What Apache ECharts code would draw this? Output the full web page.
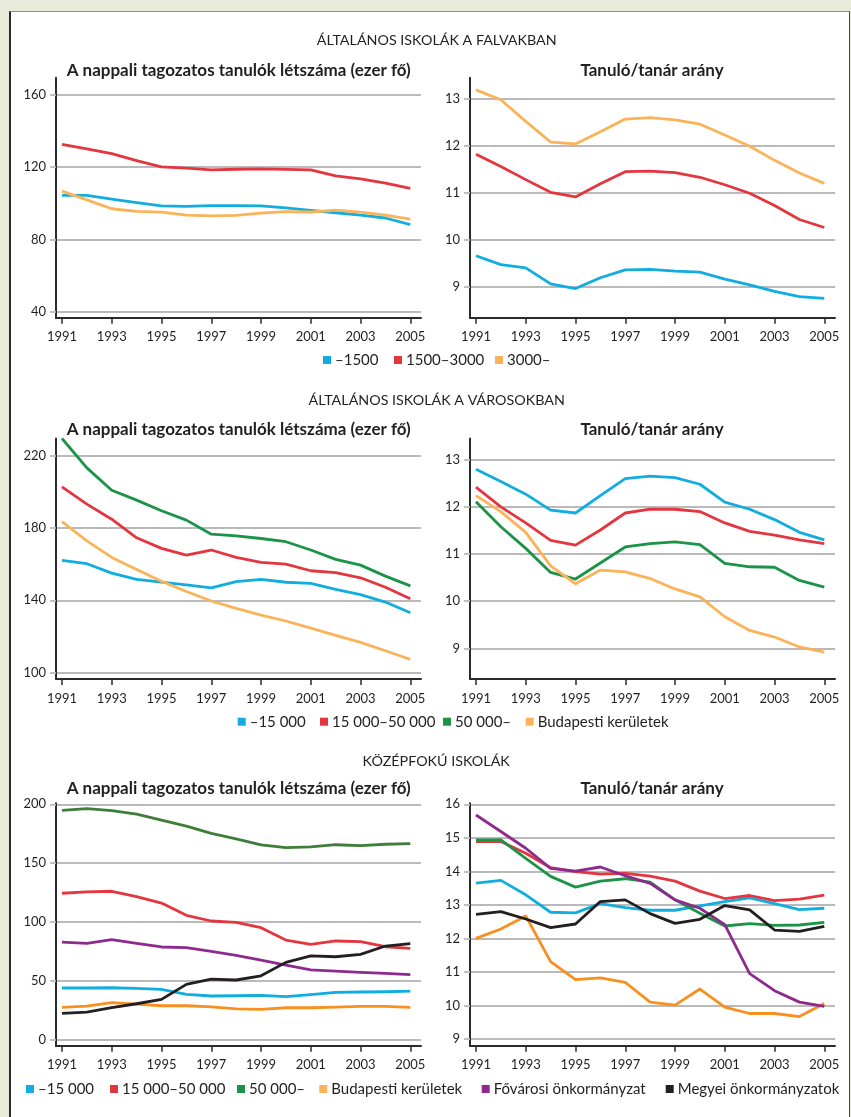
<!DOCTYPE html>
<html lang="hu">
<head>
<meta charset="utf-8">
<title>Tanulók létszáma és tanuló/tanár arány, 1991–2005</title>
<script src="https://cdn.jsdelivr.net/npm/echarts@6/dist/echarts.min.js"></script>
<style>
  html, body { margin: 0; padding: 0; }
  body { width: 851px; height: 1117px; background: #e8ebd9; position: relative; overflow: hidden; }
  #panel { position: absolute; left: 9px; top: 11px; width: 838px; height: 1110px;
           background: #ffffff; border-left: 2px solid #2a2a2a; border-top: 1px solid #8d8f85;
           border-right: 1px solid #4a4a4a; }
  #chart { position: absolute; left: 0; top: 0; width: 851px; height: 1117px; }
</style>
</head>
<body>
<div id="panel"></div>
<div id="chart"></div>
<script>
// ---- years and tick labels ----
const years = [1991, 1992, 1993, 1994, 1995, 1996, 1997, 1998, 1999, 2000, 2001, 2002, 2003, 2004, 2005];
const yearTicks = [1991, 1993, 1995, 1997, 1999, 2001, 2003, 2005];
const ticksVillagePupils = [40, 80, 120, 160];
const ticksVillageRatio = [9, 10, 11, 12, 13];
const ticksTownPupils = [100, 140, 180, 220];
const ticksTownRatio = [9, 10, 11, 12, 13];
const ticksSecPupils = [0, 50, 100, 150, 200];
const ticksSecRatio = [9, 10, 11, 12, 13, 14, 15, 16];

// ---- legend categories ----
const villageCats = ['–1500', '1500–3000', '3000–'];
const townCats = ['–15 000', '15 000–50 000', '50 000–', 'Budapesti kerületek'];
const secCats = ['–15 000', '15 000–50 000', '50 000–', 'Budapesti kerületek', 'Fővárosi önkormányzat', 'Megyei önkormányzatok'];

// ---- general schools in villages: pupils (thousand) ----
const vilPupilsU1500 = [104.3, 104.3, 102.2, 100.3, 98.5, 98.2, 98.6, 98.6, 98.5, 97.4, 96.0, 94.7, 93.4, 91.8, 88.2];
const vilPupils1500to3000 = [132.4, 130.0, 127.3, 123.5, 120.0, 119.3, 118.4, 118.7, 118.9, 118.6, 118.4, 115.1, 113.4, 111.0, 108.1];
const vilPupils3000plus = [106.6, 101.8, 96.9, 95.5, 95.0, 93.4, 93.0, 93.3, 94.5, 95.3, 95.1, 96.1, 95.0, 93.4, 91.2];

// ---- general schools in villages: pupil/teacher ratio ----
const vilRatioU1500 = [9.66, 9.47, 9.40, 9.06, 8.96, 9.19, 9.36, 9.37, 9.33, 9.31, 9.16, 9.04, 8.90, 8.79, 8.75];
const vilRatio1500to3000 = [11.82, 11.56, 11.28, 11.01, 10.91, 11.19, 11.45, 11.46, 11.43, 11.33, 11.17, 10.99, 10.73, 10.43, 10.26];
const vilRatio3000plus = [13.19, 12.98, 12.52, 12.08, 12.04, 12.30, 12.57, 12.60, 12.55, 12.46, 12.23, 11.99, 11.69, 11.42, 11.20];

// ---- general schools in towns: pupils (thousand) ----
const townPupilsU15k = [162.1, 160.3, 155.1, 151.6, 150.1, 148.6, 146.9, 150.3, 151.6, 150.0, 149.4, 146.0, 143.1, 139.0, 133.1];
const townPupils15kTo50k = [203.0, 193.4, 185.0, 174.7, 168.8, 165.1, 167.9, 163.8, 161.0, 160.1, 156.4, 155.3, 152.5, 147.2, 140.8];
const townPupils50kPlus = [229.8, 213.5, 201.1, 195.6, 189.7, 184.5, 176.7, 175.8, 174.3, 172.5, 167.9, 162.7, 159.5, 153.4, 148.0];
const townPupilsBudapest = [183.6, 173.0, 163.8, 157.1, 150.6, 144.9, 139.6, 135.5, 131.8, 128.5, 124.5, 120.5, 116.6, 112.0, 107.2];

// ---- general schools in towns: pupil/teacher ratio ----
const townRatioU15k = [12.80, 12.54, 12.27, 11.93, 11.87, 12.24, 12.60, 12.65, 12.62, 12.48, 12.10, 11.95, 11.73, 11.46, 11.30];
const townRatio15kTo50k = [12.42, 12.00, 11.66, 11.29, 11.19, 11.51, 11.87, 11.95, 11.95, 11.90, 11.66, 11.48, 11.40, 11.30, 11.22];
const townRatio50kPlus = [12.11, 11.58, 11.12, 10.61, 10.47, 10.81, 11.15, 11.22, 11.26, 11.20, 10.80, 10.73, 10.72, 10.44, 10.30];
const townRatioBudapest = [12.24, 11.90, 11.46, 10.75, 10.37, 10.66, 10.62, 10.48, 10.26, 10.09, 9.67, 9.38, 9.24, 9.03, 8.92];

// ---- secondary schools: pupils (thousand) ----
const secPupilsU15k = [43.7, 43.7, 43.9, 43.4, 42.6, 38.3, 36.9, 37.1, 37.4, 36.3, 38.0, 40.0, 40.3, 40.5, 41.1];
const secPupils15kTo50k = [124.3, 125.4, 126.0, 121.4, 116.0, 105.5, 100.7, 99.6, 95.0, 84.5, 80.9, 83.7, 83.1, 78.8, 77.4];
const secPupils50kPlus = [194.9, 196.3, 194.6, 191.7, 186.6, 181.5, 175.3, 170.5, 165.4, 163.1, 163.7, 165.6, 164.8, 166.0, 166.5];
const secPupilsBudapest = [27.2, 28.3, 31.2, 30.0, 28.6, 28.6, 27.7, 26.0, 25.5, 26.9, 26.9, 27.5, 28.1, 28.1, 27.2];
const secPupilsCapital = [82.8, 81.7, 84.8, 81.7, 78.6, 78.0, 74.9, 71.5, 67.5, 63.2, 59.2, 58.1, 57.0, 56.2, 55.0];
const secPupilsCounty = [22.1, 23.2, 26.9, 30.3, 34.0, 46.8, 51.3, 50.5, 54.1, 65.5, 71.1, 70.3, 72.3, 79.4, 81.4];

// ---- secondary schools: pupil/teacher ratio ----
const secRatioU15k = [13.65, 13.73, 13.30, 12.78, 12.76, 13.04, 12.92, 12.84, 12.84, 12.97, 13.10, 13.21, 13.04, 12.86, 12.90];
const secRatio15kTo50k = [14.89, 14.89, 14.54, 14.11, 13.99, 13.92, 13.94, 13.86, 13.71, 13.41, 13.19, 13.28, 13.13, 13.17, 13.29];
const secRatio50kPlus = [14.94, 14.94, 14.39, 13.85, 13.53, 13.71, 13.78, 13.68, 13.15, 12.75, 12.37, 12.44, 12.39, 12.40, 12.48];
const secRatioBudapest = [12.00, 12.28, 12.67, 11.31, 10.77, 10.82, 10.69, 10.10, 10.01, 10.49, 9.95, 9.76, 9.76, 9.67, 10.06];
const secRatioCapital = [15.68, 15.19, 14.69, 14.09, 14.01, 14.13, 13.87, 13.64, 13.15, 12.90, 12.41, 10.95, 10.44, 10.10, 9.97];
const secRatioCounty = [12.72, 12.80, 12.58, 12.32, 12.43, 13.10, 13.15, 12.74, 12.45, 12.57, 12.98, 12.85, 12.25, 12.21, 12.36];

// ---- styling ----
const FONT = 'Lato, "Open Sans", sans-serif';
const INK = '#231f20';
const AXIS = '#2b2b2b';
const GRID = '#bababa';
const C = {
  cyan: '#12ade0', red: '#e4363f', sand: '#fbb35a', green: '#1b9447',
  darkGreen: '#3e7d3a', orange: '#f7901e', purple: '#8e2a8e', black: '#231f20'
};
const TICK_FS = 13;
const TITLE_FS = 17;
const SECTION_FS = 14.3;
const LEGEND_FS = 15;
const LINE_W = 2.8;

// plot areas
const LEFT_X = 56, RIGHT_X = 470, PLOT_W = 365;
const rows = [
  { top: 77.7, height: 240.0 },
  { top: 438.5, height: 240.5 },
  { top: 803.3, height: 242.4 }
];
const yRanges = [
  [36.8, 169.2, ticksVillagePupils], [8.34, 13.45, ticksVillageRatio],
  [96.3, 229.8, ticksTownPupils],    [8.35, 13.45, ticksTownRatio],
  [-5.4, 200.85, ticksSecPupils],    [8.80, 16.03, ticksSecRatio]
];
const X_MIN = 1990.76, X_MAX = 2005.43;

const grids = [], xAxes = [], yAxes = [];
for (let i = 0; i < 6; i++) {
  const row = rows[Math.floor(i / 2)];
  grids.push({ left: i % 2 ? RIGHT_X : LEFT_X, top: row.top, width: PLOT_W, height: row.height, containLabel: false });
  xAxes.push({
    type: 'value', gridIndex: i, min: X_MIN, max: X_MAX,
    axisLine: { show: true, onZero: false, lineStyle: { color: AXIS, width: 2 } },
    axisTick: { show: true, customValues: yearTicks, length: 6, lineStyle: { color: AXIS, width: 1.5 } },
    axisLabel: { customValues: yearTicks, formatter: v => String(v), margin: 13,
                 fontSize: TICK_FS, color: INK, fontFamily: FONT },
    splitLine: { show: false }
  });
  const [ymin, ymax, ticks] = yRanges[i];
  yAxes.push({
    type: 'value', gridIndex: i, min: ymin, max: ymax,
    axisLine: { show: true, onZero: false, lineStyle: { color: AXIS, width: 2 } },
    axisTick: { show: true, customValues: ticks, length: 6, lineStyle: { color: GRID, width: 1.8 } },
    axisLabel: { customValues: ticks, margin: 10, fontSize: TICK_FS, color: INK, fontFamily: FONT },
    splitLine: { show: true, lineStyle: { color: GRID, width: 1.8 } }
  });
}

function line(name, values, color, idx) {
  return {
    type: 'line', name, xAxisIndex: idx, yAxisIndex: idx,
    data: years.map((y, k) => [y, values[k]]),
    symbol: 'none', showSymbol: false, silent: true,
    lineStyle: { color, width: LINE_W, join: 'round' },
    itemStyle: { color },
    emphasis: { disabled: true }
  };
}

const series = [
  line(villageCats[0], vilPupilsU1500, C.cyan, 0),
  line(villageCats[1], vilPupils1500to3000, C.red, 0),
  line(villageCats[2], vilPupils3000plus, C.sand, 0),
  line(villageCats[0], vilRatioU1500, C.cyan, 1),
  line(villageCats[1], vilRatio1500to3000, C.red, 1),
  line(villageCats[2], vilRatio3000plus, C.sand, 1),

  line(townCats[0], townPupilsU15k, C.cyan, 2),
  line(townCats[1], townPupils15kTo50k, C.red, 2),
  line(townCats[2], townPupils50kPlus, C.green, 2),
  line(townCats[3], townPupilsBudapest, C.sand, 2),
  line(townCats[0], townRatioU15k, C.cyan, 3),
  line(townCats[1], townRatio15kTo50k, C.red, 3),
  line(townCats[2], townRatio50kPlus, C.green, 3),
  line(townCats[3], townRatioBudapest, C.sand, 3),

  line(secCats[0], secPupilsU15k, C.cyan, 4),
  line(secCats[1], secPupils15kTo50k, C.red, 4),
  line(secCats[2], secPupils50kPlus, C.darkGreen, 4),
  line(secCats[3], secPupilsBudapest, C.orange, 4),
  line(secCats[4], secPupilsCapital, C.purple, 4),
  line(secCats[5], secPupilsCounty, C.black, 4),
  line(secCats[0], secRatioU15k, C.cyan, 5),
  line(secCats[1], secRatio15kTo50k, C.red, 5),
  line(secCats[2], secRatio50kPlus, C.green, 5),
  line(secCats[3], secRatioBudapest, C.orange, 5),
  line(secCats[4], secRatioCapital, C.purple, 5),
  line(secCats[5], secRatioCounty, C.black, 5)
];

// headings
function heading(text, cx, cy, size, weight) {
  return {
    text, left: cx, top: cy, textAlign: 'center', textVerticalAlign: 'middle', padding: 0,
    textStyle: { fontSize: size, fontWeight: weight, color: INK, fontFamily: FONT }
  };
}
const PUPILS_TITLE = 'A nappali tagozatos tanulók létszáma (ezer fő)';
const RATIO_TITLE = 'Tanuló/tanár arány';
const titles = [
  heading('ÁLTALÁNOS ISKOLÁK A FALVAKBAN', 436.7, 40, SECTION_FS, 'normal'),
  heading(PUPILS_TITLE, 238.7, 70.7, TITLE_FS, 'bold'),
  heading(RATIO_TITLE, 652, 70.7, TITLE_FS, 'bold'),
  heading('ÁLTALÁNOS ISKOLÁK A VÁROSOKBAN', 436.7, 400.7, SECTION_FS, 'normal'),
  heading(PUPILS_TITLE, 238.7, 430, TITLE_FS, 'bold'),
  heading(RATIO_TITLE, 652, 430, TITLE_FS, 'bold'),
  heading('KÖZÉPFOKÚ ISKOLÁK', 436.2, 761.7, SECTION_FS, 'normal'),
  heading(PUPILS_TITLE, 238.7, 789, TITLE_FS, 'bold'),
  heading(RATIO_TITLE, 652, 789, TITLE_FS, 'bold')
];

// legend rows: swatch colour and x position of each swatch
const legendRows = [
  { cy: 360, names: villageCats, colors: [C.cyan, C.red, C.sand], xs: [323, 394, 495] },
  { cy: 721.7, names: townCats, colors: [C.cyan, C.red, C.green, C.sand], xs: [237.7, 320, 443, 525.7] },
  { cy: 1089, names: secCats, colors: [C.cyan, C.red, C.green, C.sand, C.purple, C.black],
    xs: [26, 110, 237, 319.3, 481.7, 665.7] }
];
const legends = [];
legendRows.forEach(r => {
  r.names.forEach((n, k) => {
    legends.push({
      left: r.xs[k], top: r.cy - LEGEND_FS / 2, padding: 0, orient: 'horizontal',
      icon: 'rect', itemWidth: 8, itemHeight: 8, itemGap: 0,
      selectedMode: false,
      data: [{ name: n, itemStyle: { color: r.colors[k] } }],
      textStyle: { fontSize: LEGEND_FS, color: INK, fontFamily: FONT, padding: [0, 0, 0, -1] }
    });
  });
});

const chart = echarts.init(document.getElementById('chart'), null, { renderer: 'canvas' });
chart.setOption({
  animation: false,
  backgroundColor: 'transparent',
  title: titles,
  legend: legends,
  grid: grids,
  xAxis: xAxes,
  yAxis: yAxes,
  series
});
</script>
</body>
</html>
